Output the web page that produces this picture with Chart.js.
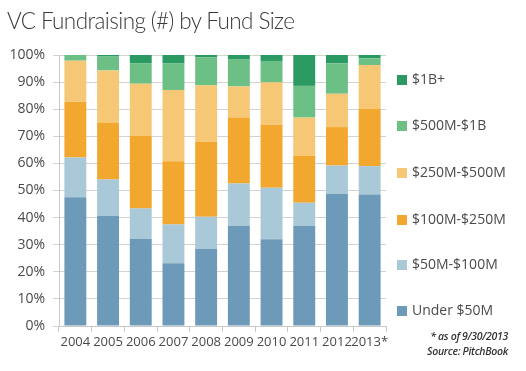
<!DOCTYPE html>
<html>
<head>
<meta charset="utf-8">
<script src="https://cdn.jsdelivr.net/npm/chart.js@4/dist/chart.umd.min.js"></script>
<style>
  html, body { margin: 0; padding: 0; background: #fff; }
  #wrap { position: relative; width: 526px; height: 371px; overflow: hidden; }
  #c { position: absolute; left: 0; top: 0; }
  #title { position: absolute; left: 7px; top: 7px; font-family: Lato, sans-serif; font-weight: 300; font-size: 22.5px; letter-spacing: -0.6px; color: #3a3a3a; white-space: nowrap; }
  .leg { position: absolute; left: 397px; font-family: "Open Sans", sans-serif; font-size: 14px; color: #4a4a4a; white-space: nowrap; line-height: 18px; height: 18px; }
  .leg i { display: inline-block; width: 10px; height: 10px; margin-right: 5px; vertical-align: -1px; }
  #note { position: absolute; right: 18px; top: 329px; text-align: right; font-family: "Open Sans", sans-serif; font-style: italic; font-weight: 600; font-size: 10.5px; line-height: 15px; color: #333; letter-spacing: -0.3px; }
</style>
</head>
<body>
<div id="wrap">
  <canvas id="c" width="526" height="371"></canvas>
  <div id="title">VC Fundraising (#) by Fund Size</div>
  <div id="legend"></div>
  <div id="note">* as of 9/30/2013<br>Source: PitchBook</div>
</div>
<script>
const categories = ['2004','2005','2006','2007','2008','2009','2010','2011','2012','2013*'];
const under50M   = [47.5, 40.6, 32.1, 23.2, 28.4, 36.9, 32.0, 36.9, 48.7, 48.5];
const m50to100   = [14.7, 13.5, 11.3, 14.3, 11.9, 15.7, 19.0,  8.6, 10.5, 10.5];
const m100to250  = [20.5, 20.8, 26.7, 23.3, 27.7, 24.3, 23.2, 17.2, 14.2, 21.1];
const m250to500  = [15.2, 19.4, 19.3, 26.3, 20.8, 11.5, 15.7, 14.2, 12.3, 16.2];
const m500to1B   = [ 2.1,  5.1,  7.6,  9.9, 10.3, 10.1,  7.9, 11.7, 11.2,  2.5];
const b1plus     = [ 0.0,  0.6,  3.0,  3.0,  0.9,  1.5,  2.2, 11.4,  3.1,  1.2];
const yTicks     = [0,10,20,30,40,50,60,70,80,90,100];

const series = [
  { label: 'Under $50M',   data: under50M,  color: '#6c9ab8' },
  { label: '$50M-$100M',   data: m50to100,  color: '#a9c8d8' },
  { label: '$100M-$250M',  data: m100to250, color: '#f2a72e' },
  { label: '$250M-$500M',  data: m250to500, color: '#f6c775' },
  { label: '$500M-$1B',    data: m500to1B,  color: '#6cc085' },
  { label: '$1B+',         data: b1plus,    color: '#2b9a62' }
];

// HTML legend (top to bottom: $1B+ ... Under $50M)
const legTops = [70, 116, 163, 210, 255, 301];
const legEl = document.getElementById('legend');
series.slice().reverse().forEach((s, i) => {
  const d = document.createElement('div');
  d.className = 'leg';
  d.style.top = legTops[i] + 'px';
  d.innerHTML = '<i style="background:' + s.color + '"></i>' + s.label;
  legEl.appendChild(d);
});

new Chart(document.getElementById('c'), {
  type: 'bar',
  data: {
    labels: categories,
    datasets: series.map(s => ({
      label: s.label,
      data: s.data,
      backgroundColor: s.color,
      borderWidth: 0,
      barPercentage: 0.67,
      categoryPercentage: 1.0
    }))
  },
  options: {
    responsive: false,
    devicePixelRatio: 1,
    animation: false,
    layout: { padding: { top: 55, right: 140, bottom: 0, left: 0 } },
    plugins: { legend: { display: false }, tooltip: { enabled: false }, title: { display: false } },
    scales: {
      x: {
        stacked: true,
        afterFit: s => { s.height = 45; },
        grid: { drawOnChartArea: false, drawTicks: true, tickLength: 6, color: '#c8c8c8', offset: true },
        border: { display: true, color: '#c8c8c8' },
        ticks: { color: '#4a4a4a', padding: 2, maxRotation: 0, autoSkip: false, font: { family: 'Open Sans', size: 13 } }
      },
      y: {
        stacked: true,
        min: 0, max: 100,
        afterFit: s => { s.width = 59; },
        afterBuildTicks: s => { s.ticks = yTicks.map(v => ({ value: v })); },
        grid: { color: '#d3d3d3', tickLength: 6, drawTicks: true },
        border: { display: true, color: '#c8c8c8' },
        ticks: { color: '#4a4a4a', padding: 8, font: { family: 'Open Sans', size: 14 }, callback: v => v + '%' }
      }
    }
  }
});
</script>
</body>
</html>
